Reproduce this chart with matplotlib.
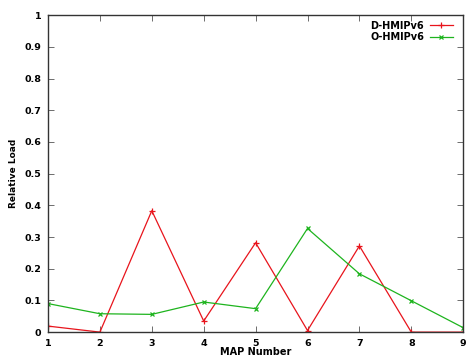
import numpy as np
import matplotlib
matplotlib.use("Agg")
from matplotlib import pyplot as plt
from matplotlib.ticker import FuncFormatter

# data
maps = [1, 2, 3, 4, 5, 6, 7, 8, 9]
d_hmip = [0.019, 0.0, 0.383, 0.035, 0.282, 0.005, 0.272, 0.0, 0.0]
o_hmip = [0.090, 0.058, 0.056, 0.095, 0.074, 0.327, 0.184, 0.099, 0.014]
yticks = [0, 0.1, 0.2, 0.3, 0.4, 0.5, 0.6, 0.7, 0.8, 0.9, 1]

plt.rcParams['font.family'] = 'DejaVu Sans'
plt.rcParams['font.weight'] = 'bold'
plt.rcParams['font.size'] = 6.8

fig = plt.figure(figsize=(4.66, 3.61), dpi=100)
ax = fig.add_axes([0.103, 0.080, 0.891, 0.878])

ax.plot(maps, d_hmip, color='#e8141c', lw=0.9, marker='+', ms=5,
        mew=0.9, label='D-HMIPv6')
ax.plot(maps, o_hmip, color='#1eb41e', lw=0.9, marker='x', ms=3.5,
        mew=0.9, label='O-HMIPv6')

ax.set_xlim(1, 9)
ax.set_ylim(0, 1)
ax.set_xticks(maps)
ax.set_yticks(yticks)
ax.yaxis.set_major_formatter(FuncFormatter(lambda v, p: '%g' % v))
ax.tick_params(direction='in', top=True, right=True, length=4,
               width=0.6, color='#555555', pad=5)
for s in ax.spines.values():
    s.set_color('#333333')
    s.set_linewidth(1.0)

ax.set_xlabel('MAP Number', fontsize=7, fontweight='bold', labelpad=-1)
ax.set_ylabel('Relative Load', fontsize=6.5, fontweight='bold', labelpad=4)

ax.legend(loc='upper right', frameon=False, markerfirst=False,
          handlelength=2.4, handletextpad=0.6, borderaxespad=0.0,
          labelspacing=0.15, fontsize=7, bbox_to_anchor=(0.985, 0.995))

fig.savefig('out.png', dpi=100)
